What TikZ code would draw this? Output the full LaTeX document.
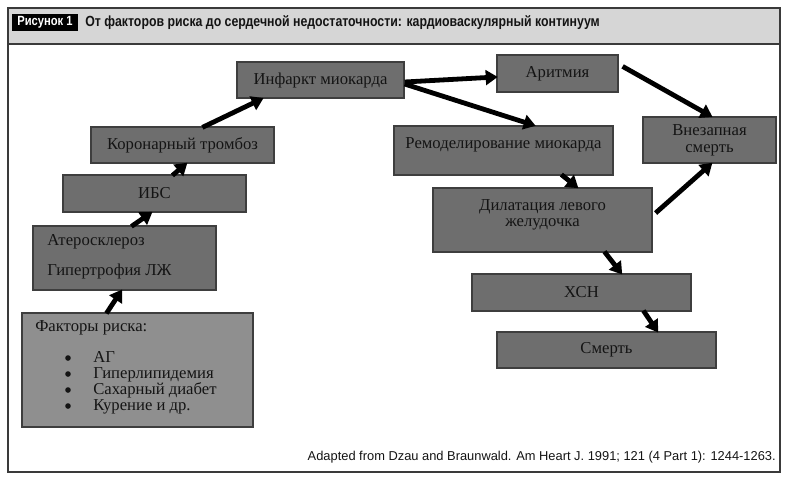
\documentclass[tikz,border=0pt]{standalone}
\usepackage{fontspec}
\setmainfont{Liberation Serif}
\newfontfamily\hdrfont[FakeStretch=0.84]{Liberation Sans}
\newfontfamily\footfont{Liberation Sans}
\usetikzlibrary{arrows.meta,calc}
\definecolor{boxfill}{HTML}{6E6E6E}
\definecolor{factfill}{HTML}{8F8F8F}
\definecolor{boxline}{HTML}{3E3E3E}
\definecolor{frameline}{HTML}{3A3A3A}
\definecolor{hdrfill}{HTML}{D6D6D6}
\definecolor{txt}{HTML}{141414}
\tikzset{
  box/.style={draw=boxline, fill=boxfill, line width=0.9pt, inner sep=0pt, text=txt,
    font=\fontsize{12.5}{15}\selectfont, anchor=center},
  lbl/.style={inner sep=0pt, text=txt, font=\fontsize{12.5}{15}\selectfont},
  arr/.style={line width=3.6pt, black, -{Triangle[length=9pt,width=11pt]}, shorten >=-1pt},
  dot/.style={circle, fill=txt, inner sep=0pt, minimum size=4.2pt},
}
\begin{document}
\begin{tikzpicture}[x=0.75pt,y=-0.75pt]
\useasboundingbox (0,0) rectangle (787,483);
% frame and header
\fill[hdrfill] (8,8) rectangle (780,44);
\draw[frameline, line width=0.8pt] (8,44) -- (780,44);
\draw[frameline, line width=1.6pt] (8,8) rectangle (780,472);
\node[fill=black, text=white, inner sep=0pt, minimum width=49.5pt, minimum height=12.75pt,
  font=\hdrfont\bfseries\fontsize{10}{11}\selectfont] (fig) at (45,22.5) {Рисунок 1};
\node[anchor=west, inner sep=0pt, text=txt, font=\hdrfont\bfseries\fontsize{11}{12}\selectfont]
  (title) at (85,22.5) {От факторов риска до сердечной недостаточности: кардиоваскулярный континуум};
% boxes
\node[box, minimum width=125.25pt, minimum height=27pt] (inf) at (320.5,80) {Инфаркт миокарда};
\node[box, minimum width=90.75pt, minimum height=27.75pt] (ar) at (557.5,73.5) {Аритмия};
\node[box, minimum width=137.25pt, minimum height=27pt] (kor) at (182.5,145) {Коронарный тромбоз};
\node[box, minimum width=164.25pt, minimum height=36.75pt] (rem) at (503.5,150.5) {};
\node[lbl] (remt) at (503.5,145) {Ремоделирование миокарда};
\node[box, minimum width=99.75pt, minimum height=34.5pt, align=center,
  font=\fontsize{12.5}{12.5}\selectfont] (vs) at (709.5,140) {Внезапная\\смерть};
\node[box, minimum width=137.25pt, minimum height=27.75pt] (ibs) at (154.5,193.5) {ИБС};
\node[box, minimum width=164.25pt, minimum height=48pt] (dil) at (542.5,220) {};
\node[lbl, align=center, font=\fontsize{12.5}{12}\selectfont] (dilt) at (542.5,215) {Дилатация левого\\желудочка};
\node[box, minimum width=137.25pt, minimum height=48pt] (ath) at (124.5,258) {};
\node[lbl, anchor=west] (ath1) at (47,242) {Атеросклероз};
\node[lbl, anchor=west] (ath2) at (47,271) {Гипертрофия ЛЖ};
\node[box, minimum width=164.25pt, minimum height=27.75pt] (xsn) at (581.5,292.5) {ХСН};
\node[box, minimum width=164.25pt, minimum height=27pt] (sm) at (606.5,350) {Смерть};
\node[box, fill=factfill, minimum width=173.25pt, minimum height=85.5pt] (fact) at (137.5,370) {};
\node[lbl, anchor=west] (factt) at (35,328) {Факторы риска:};
\node[lbl, anchor=west, align=left, font=\fontsize{12.5}{12}\selectfont] (flist) at (93,382.5)
  {АГ\\Гиперлипидемия\\Сахарный диабет\\Курение и др.};
\node[dot] (d1) at (68,358) {};
\node[dot] (d2) at (68,374) {};
\node[dot] (d3) at (68,390) {};
\node[dot] (d4) at (68,406) {};
% arrows
\draw[arr] ($(fact.north west)+(85,1)$) -- ($(ath.south west)+(89,0)$);
\draw[arr] ($(ath.north west)+(99,1)$) -- ($(ibs.south west)+(89,0)$);
\draw[arr] ($(ibs.north west)+(110,1)$) -- ($(kor.south west)+(96,0)$);
\draw[arr] ($(kor.north west)+(112,1)$) -- ($(inf.south west)+(26,0)$);
\draw[arr] ($(inf.east)+(0,2)$) -- ($(ar.west)+(0,3.5)$);
\draw[arr] ($(inf.east)+(0,4)$) -- ($(rem.north west)+(141,0)$);
\draw[arr] ($(ar.north east)+(4,12)$) -- ($(vs.north west)+(69,0)$);
\draw[arr] ($(rem.south west)+(168,-1)$) -- ($(dil.north west)+(145,0)$);
\draw[arr] ($(dil.east)+(3,-7)$) -- ($(vs.south west)+(69,0)$);
\draw[arr] ($(dil.south west)+(172,-1)$) -- ($(xsn.north west)+(150,0)$);
\draw[arr] ($(xsn.south west)+(172,-1)$) -- ($(sm.north west)+(161,0)$);
% footer
\node[anchor=east, inner sep=0pt, text=txt, font=\footfont\fontsize{9.65}{11}\selectfont] (src) at (776,457)
  {Adapted from Dzau and Braunwald. Am Heart J. 1991; 121 (4 Part 1): 1244-1263.};
\end{tikzpicture}
\end{document}
